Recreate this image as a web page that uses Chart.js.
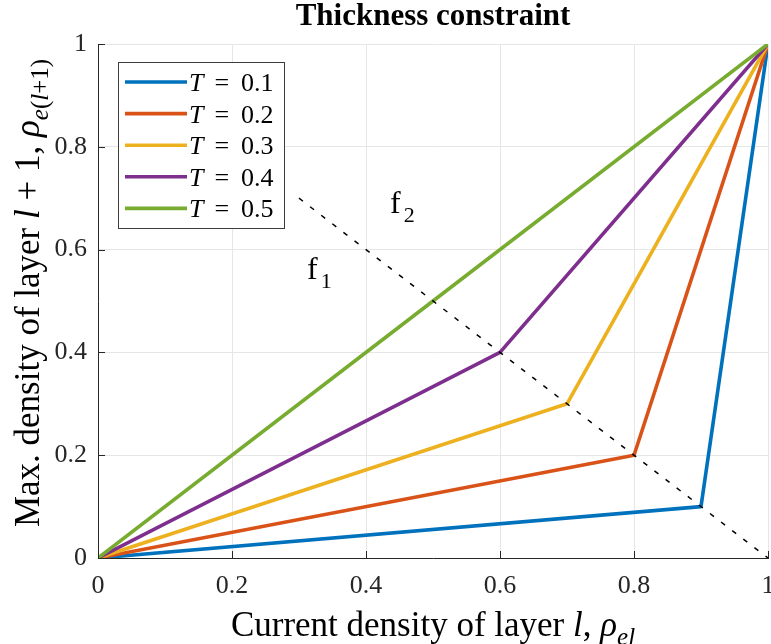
<!DOCTYPE html>
<html>
<head>
<meta charset="utf-8">
<script src="https://cdn.jsdelivr.net/npm/chart.js@4.4.1/dist/chart.umd.min.js"></script>
<style>
  html, body { margin: 0; padding: 0; background: #fff; }
  canvas { display: block; }
</style>
</head>
<body>
<canvas id="chart" width="771" height="644"></canvas>
<script>
// data
const seriesT = ['0.1', '0.2', '0.3', '0.4', '0.5'];
const seriesColors = ['#0072BD', '#D95319', '#EDB120', '#7E2F8E', '#77AC30'];
const xT01 = [0, 0.9, 1];
const yT01 = [0, 0.1, 1];
const xT02 = [0, 0.8, 1];
const yT02 = [0, 0.2, 1];
const xT03 = [0, 0.7, 1];
const yT03 = [0, 0.3, 1];
const xT04 = [0, 0.6, 1];
const yT04 = [0, 0.4, 1];
const xT05 = [0, 0.5, 1];
const yT05 = [0, 0.5, 1];
const boundaryX = [0.3, 1];
const boundaryY = [0.7, 0];
const tickLabels = ['0', '0.2', '0.4', '0.6', '0.8', '1'];
const regionNames = ['1', '2'];
const regionX = [0.312, 0.436];
const regionY = [0.543, 0.671];

const seriesX = [xT01, xT02, xT03, xT04, xT05];
const seriesY = [yT01, yT02, yT03, yT04, yT05];

const SERIF = '"Liberation Serif", "Times New Roman", serif';
const AXIS_COLOR = '#262626';

function toPoints(xs, ys) {
    return xs.map((x, i) => ({ x: x, y: ys[i] }));
}

const datasets = seriesT.map((t, i) => ({
    label: 'T = ' + t,
    data: toPoints(seriesX[i], seriesY[i]),
    borderColor: seriesColors[i],
    backgroundColor: seriesColors[i],
    borderWidth: 3.6,
    pointRadius: 0,
    borderJoinStyle: 'round',
    fill: false,
    order: seriesT.length - i,
}));
datasets.push({
    label: 'boundary',
    data: toPoints(boundaryX, boundaryY),
    borderColor: '#000',
    borderWidth: 1.5,
    borderDash: [5, 9],
    pointRadius: 0,
    fill: false,
    order: 0,
});

// text made of plain / italic / subscript pieces
function partFont(p, size) {
    const s = p.sub ? Math.round(size * 0.7) : size;
    return (p.it ? 'italic ' : '') + s + 'px ' + SERIF;
}
function richWidth(ctx, parts, size) {
    let w = 0;
    parts.forEach(p => {
        ctx.font = partFont(p, size);
        w += ctx.measureText(p.t).width + (p.gap || 0);
    });
    return w;
}
function drawRich(ctx, parts, x, y, size, align) {
    let cx = align === 'center' ? x - richWidth(ctx, parts, size) / 2 : x;
    ctx.textAlign = 'left';
    ctx.textBaseline = 'alphabetic';
    parts.forEach(p => {
        ctx.font = partFont(p, size);
        ctx.fillText(p.t, cx, y + (p.sub ? size * 0.27 : 0));
        cx += ctx.measureText(p.t).width + (p.gap || 0);
    });
}

const decorations = {
    id: 'decorations',
    afterDraw(chart) {
        const ctx = chart.ctx;
        const area = chart.chartArea;
        const xs = chart.scales.x;
        const ys = chart.scales.y;
        ctx.save();

        // inward tick marks
        ctx.strokeStyle = AXIS_COLOR;
        ctx.lineWidth = 1;
        xs.ticks.forEach(t => {
            const px = Math.round(xs.getPixelForValue(t.value)) + 0.5;
            ctx.beginPath();
            ctx.moveTo(px, area.bottom);
            ctx.lineTo(px, area.bottom - 7);
            ctx.stroke();
        });
        ys.ticks.forEach(t => {
            const py = Math.round(ys.getPixelForValue(t.value)) + 0.5;
            ctx.beginPath();
            ctx.moveTo(area.left, py);
            ctx.lineTo(area.left + 7, py);
            ctx.stroke();
        });

        // region labels f1, f2
        ctx.fillStyle = '#000';
        regionNames.forEach((n, i) => {
            const px = xs.getPixelForValue(regionX[i]);
            const py = ys.getPixelForValue(regionY[i]);
            ctx.font = '32px ' + SERIF;
            ctx.textAlign = 'left';
            ctx.textBaseline = 'alphabetic';
            ctx.fillText('f', px, py);
            const fw = ctx.measureText('f').width;
            ctx.font = '22px ' + SERIF;
            ctx.fillText(n, px + fw + 3, py + 9);
        });

        // legend box
        const bx = area.left + 20, by = area.top + 18, bw = 166, bh = 166;
        ctx.fillStyle = '#fff';
        ctx.fillRect(bx, by, bw, bh);
        ctx.strokeStyle = '#3c3c3c';
        ctx.lineWidth = 1;
        ctx.strokeRect(bx + 0.5, by + 0.5, bw, bh);
        seriesT.forEach((t, i) => {
            const ry = by + 20 + i * 31.6;
            ctx.strokeStyle = seriesColors[i];
            ctx.lineWidth = 3.6;
            ctx.beginPath();
            ctx.moveTo(bx + 7, ry);
            ctx.lineTo(bx + 69, ry);
            ctx.stroke();
            ctx.fillStyle = '#000';
            drawRich(ctx, [
                { t: 'T', it: true, gap: 11 },
                { t: '=', gap: 12 },
                { t: t },
            ], bx + 71, ry + 9, 26, 'left');
        });

        // axis titles
        ctx.fillStyle = '#000';
        drawRich(ctx, [
            { t: 'Current density of layer ' },
            { t: 'l', it: true },
            { t: ', ' },
            { t: '\u03c1', it: true },
            { t: 'el', it: true, sub: true },
        ], (area.left + area.right) / 2, 636, 35, 'center');

        ctx.translate(39, (area.top + area.bottom) / 2 - 8);
        ctx.rotate(-Math.PI / 2);
        drawRich(ctx, [
            { t: 'Max. density of layer ' },
            { t: 'l', it: true },
            { t: ' + 1, ' },
            { t: '\u03c1', it: true },
            { t: 'e', it: true, sub: true },
            { t: '(', sub: true },
            { t: 'l', it: true, sub: true },
            { t: '+1)', sub: true },
        ], 0, 0, 35, 'center');

        ctx.restore();
    },
};

const ctx = document.getElementById('chart').getContext('2d');
const chart = new Chart(ctx, {
    type: 'line',
    data: { datasets: datasets },
    plugins: [decorations],
    options: {
        responsive: false,
        animation: false,
        layout: { padding: { left: 0, right: 3, top: 0, bottom: 0 } },
        plugins: {
            legend: { display: false },
            tooltip: { enabled: false },
            title: {
                display: true,
                fullSize: false,
                text: 'Thickness constraint',
                color: '#000',
                font: { family: SERIF, size: 31, weight: 'bold', lineHeight: 1.1 },
                padding: { top: 0, bottom: 9.9 },
            },
        },
        scales: {
            x: {
                type: 'linear',
                min: 0,
                max: 1,
                ticks: {
                    stepSize: 0.2,
                    padding: 13,
                    color: AXIS_COLOR,
                    font: { family: SERIF, size: 26 },
                    maxRotation: 0,
                    callback: (v, i) => tickLabels[i],
                },
                grid: { color: '#e6e6e6', drawTicks: false },
                border: { color: AXIS_COLOR, width: 1 },
                afterFit: s => { s.height = 86; s.paddingRight = 3; s.paddingLeft = 0; },
            },
            y: {
                type: 'linear',
                min: 0,
                max: 1,
                ticks: {
                    stepSize: 0.2,
                    padding: 11,
                    color: AXIS_COLOR,
                    font: { family: SERIF, size: 26 },
                    callback: (v, i) => tickLabels[i],
                },
                grid: { color: '#e6e6e6', drawTicks: false },
                border: { color: AXIS_COLOR, width: 1 },
                afterFit: s => { s.width = 98; s.paddingTop = 0; s.paddingBottom = 0; },
            },
        },
    },
});
</script>
</body>
</html>
